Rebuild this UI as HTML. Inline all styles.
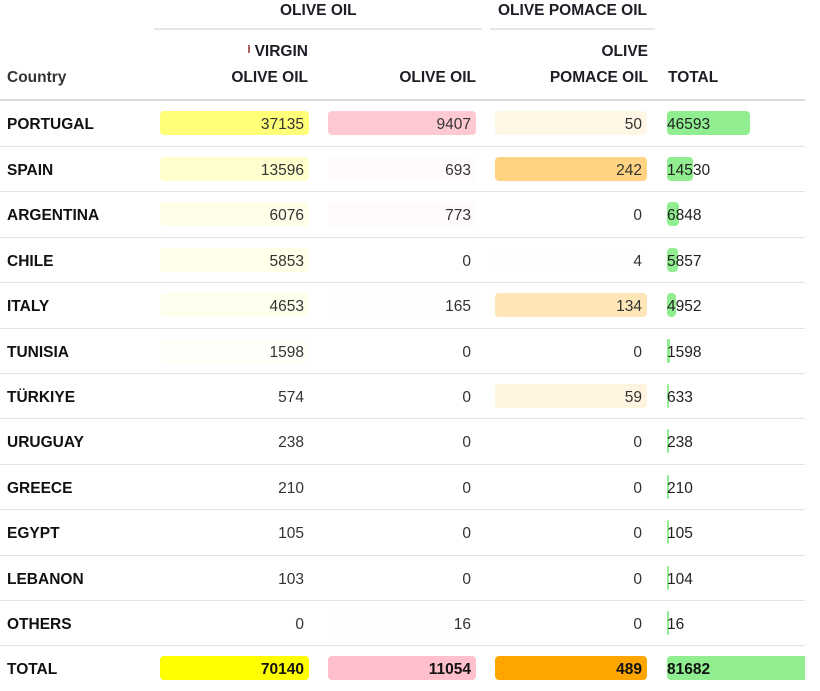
<!DOCTYPE html>
<html>
<head>
<meta charset="utf-8">
<style>
html,body{margin:0;padding:0;background:#fff;}
body{width:820px;height:679px;position:relative;overflow:hidden;font-family:"Liberation Sans",Arial,sans-serif;color:#333;}
.h{position:absolute;font-weight:700;font-size:15.5px;color:#1d1d26;line-height:18px;white-space:nowrap;}
.gl{position:absolute;height:2px;background:#e6e6e6;top:28px;}
.hb{position:absolute;left:0;width:805px;top:99px;height:2px;background:#d9d9d9;}
.r{position:absolute;left:0;width:805px;height:45.4px;overflow:hidden;}
.r.b{border-top:1px solid #e3e3e3;box-sizing:border-box;}
.cn{position:absolute;left:7px;top:10px;line-height:27px;font-weight:bold;font-size:15.5px;color:#111;}
.c{position:absolute;top:10px;height:24px;line-height:27px;font-size:15.5px;text-align:right;box-sizing:border-box;padding-right:5px;border-radius:4px;color:#333;overflow:visible;}
.c1{left:160px;width:149px;}
.c2{left:328px;width:148px;}
.c3{left:495px;width:152px;}
.gb{position:absolute;left:667px;top:10px;height:24px;background:#90ee90;border-radius:4px;}
.gt{position:absolute;left:667px;top:10px;line-height:27px;font-size:15.5px;color:#222;}
.tot .c,.tot .gt{font-weight:bold;color:#111;}
</style>
</head>
<body>
<div class="h" style="left:280px;top:2px;">OLIVE OIL</div>
<div class="h" style="left:498px;top:2px;">OLIVE POMACE OIL</div>
<div class="gl" style="left:154px;width:328px;"></div>
<div class="gl" style="left:490px;width:165px;"></div>

<div style="position:absolute;left:248px;top:45px;width:2px;height:8px;background:#a66;"></div>
<div class="h" style="right:512px;top:43px;">VIRGIN</div>
<div class="h" style="right:512px;top:69px;">OLIVE OIL</div>
<div class="h" style="left:7px;top:69px;color:#333;">Country</div>
<div class="h" style="right:344px;top:69px;">OLIVE OIL</div>
<div class="h" style="right:172px;top:43px;">OLIVE</div>
<div class="h" style="right:172px;top:69px;">POMACE OIL</div>
<div class="h" style="left:668px;top:69px;">TOTAL</div>
<div class="hb"></div>

<div class="r" style="top:100.5px;">
<div class="cn">PORTUGAL</div>
<div class="c c1" style="background:rgba(255,255,0,0.529)">37135</div>
<div class="c c2" style="background:rgba(255,192,203,0.851)">9407</div>
<div class="c c3" style="background:rgba(255,165,0,0.102)">50</div>
<div class="gb" style="width:83px"></div><div class="gt">46593</div>
</div>

<div class="r b" style="top:145.9px;">
<div class="cn">SPAIN</div>
<div class="c c1" style="background:rgba(255,255,0,0.194)">13596</div>
<div class="c c2" style="background:rgba(255,192,203,0.063)">693</div>
<div class="c c3" style="background:rgba(255,165,0,0.495)">242</div>
<div class="gb" style="width:26px"></div><div class="gt">14530</div>
</div>

<div class="r b" style="top:191.3px;">
<div class="cn">ARGENTINA</div>
<div class="c c1" style="background:rgba(255,255,0,0.087)">6076</div>
<div class="c c2" style="background:rgba(255,192,203,0.070)">773</div>
<div class="c c3">0</div>
<div class="gb" style="width:12px"></div><div class="gt">6848</div>
</div>

<div class="r b" style="top:236.7px;">
<div class="cn">CHILE</div>
<div class="c c1" style="background:rgba(255,255,0,0.083)">5853</div>
<div class="c c2">0</div>
<div class="c c3" style="background:rgba(255,165,0,0.008)">4</div>
<div class="gb" style="width:10.5px"></div><div class="gt">5857</div>
</div>

<div class="r b" style="top:282.1px;">
<div class="cn">ITALY</div>
<div class="c c1" style="background:rgba(255,255,0,0.066)">4653</div>
<div class="c c2" style="background:rgba(255,192,203,0.015)">165</div>
<div class="c c3" style="background:rgba(255,165,0,0.274)">134</div>
<div class="gb" style="width:9px"></div><div class="gt">4952</div>
</div>

<div class="r b" style="top:327.5px;">
<div class="cn">TUNISIA</div>
<div class="c c1" style="background:rgba(255,255,0,0.023)">1598</div>
<div class="c c2">0</div>
<div class="c c3">0</div>
<div class="gb" style="width:2.8px;border-radius:1px"></div><div class="gt">1598</div>
</div>

<div class="r b" style="top:372.9px;">
<div class="cn">TÜRKIYE</div>
<div class="c c1" style="background:rgba(255,255,0,0.008)">574</div>
<div class="c c2">0</div>
<div class="c c3" style="background:rgba(255,165,0,0.121)">59</div>
<div class="gb" style="width:2px;border-radius:1px"></div><div class="gt">633</div>
</div>

<div class="r b" style="top:418.3px;">
<div class="cn">URUGUAY</div>
<div class="c c1">238</div>
<div class="c c2">0</div>
<div class="c c3">0</div>
<div class="gb" style="width:2px;border-radius:1px"></div><div class="gt">238</div>
</div>

<div class="r b" style="top:463.7px;">
<div class="cn">GREECE</div>
<div class="c c1">210</div>
<div class="c c2">0</div>
<div class="c c3">0</div>
<div class="gb" style="width:2px;border-radius:1px"></div><div class="gt">210</div>
</div>

<div class="r b" style="top:509.1px;">
<div class="cn">EGYPT</div>
<div class="c c1">105</div>
<div class="c c2">0</div>
<div class="c c3">0</div>
<div class="gb" style="width:2px;border-radius:1px"></div><div class="gt">105</div>
</div>

<div class="r b" style="top:554.5px;">
<div class="cn">LEBANON</div>
<div class="c c1">103</div>
<div class="c c2">0</div>
<div class="c c3">0</div>
<div class="gb" style="width:2px;border-radius:1px"></div><div class="gt">104</div>
</div>

<div class="r b" style="top:599.9px;">
<div class="cn">OTHERS</div>
<div class="c c1">0</div>
<div class="c c2" style="background:rgba(255,192,203,0.01)">16</div>
<div class="c c3">0</div>
<div class="gb" style="width:2px;border-radius:1px"></div><div class="gt">16</div>
</div>

<div class="r b tot" style="top:645.3px;">
<div class="cn">TOTAL</div>
<div class="c c1" style="background:#ffff00">70140</div>
<div class="c c2" style="background:#ffc0cb">11054</div>
<div class="c c3" style="background:#ffa500">489</div>
<div class="gb" style="width:145px"></div><div class="gt">81682</div>
</div>
</body>
</html>
